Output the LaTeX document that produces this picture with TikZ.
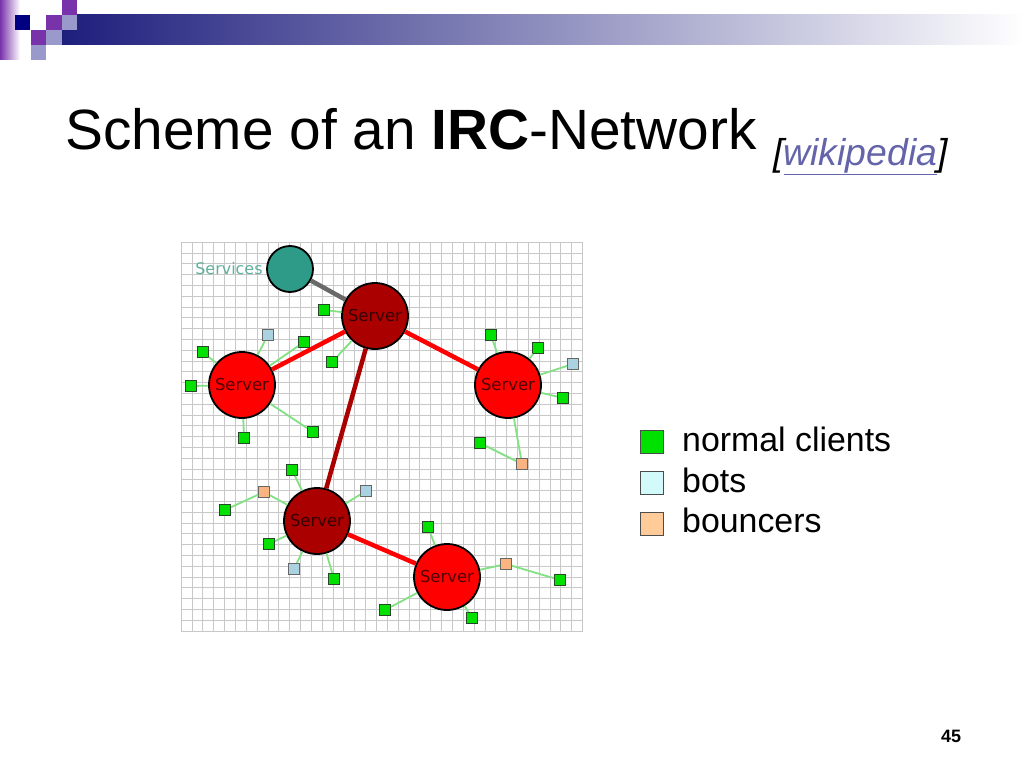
\documentclass[tikz,border=0pt]{standalone}
\usepackage{fontspec}
\setmainfont{Liberation Sans}
\newfontfamily\dejavu{DejaVu Sans}
\usetikzlibrary{positioning}
\definecolor{navy}{RGB}{0,0,128}
\definecolor{violet}{RGB}{120,50,170}
\definecolor{lavender}{RGB}{153,153,204}
\definecolor{barblue}{RGB}{30,30,125}
\definecolor{bargray}{RGB}{165,165,190}
\definecolor{linkcol}{RGB}{100,100,170}
\definecolor{gridcol}{RGB}{200,200,200}
\definecolor{srvred}{RGB}{255,0,0}
\definecolor{hubred}{RGB}{170,0,0}
\definecolor{svcteal}{RGB}{45,155,135}
\definecolor{svctext}{RGB}{95,175,155}
\definecolor{clgreen}{RGB}{0,225,0}
\definecolor{botblue}{RGB}{170,210,225}
\definecolor{bncorange}{RGB}{250,180,130}
\definecolor{leafgreen}{RGB}{130,225,130}
\begin{document}
\begin{tikzpicture}[x=1bp, y=-1bp,
  server/.style={circle, draw=black, line width=1.8bp, fill=srvred, minimum size=66bp,
    inner sep=0pt, font=\dejavu\fontsize{16.5}{16.5}\selectfont, text={rgb,255:red,80;green,0;blue,0}},
  hub/.style={server, fill=hubred, text={rgb,255:red,55;green,0;blue,0}},
  client/.style={rectangle, draw={rgb,255:red,40;green,70;blue,40}, line width=1bp,
    fill=clgreen, minimum size=11bp, inner sep=0pt},
  bot/.style={client, fill=botblue, draw=black!60},
  bouncer/.style={client, fill=bncorange, draw=black!60},
  leaf/.style={draw=leafgreen, line width=1.8bp},
  trunk/.style={draw=srvred, line width=4.5bp},
  keybox/.style={rectangle, draw=black!70, line width=0.8bp, minimum size=23bp, inner sep=0pt},
  keytext/.style={anchor=base west, inner sep=0pt, font=\fontsize{34}{34}\selectfont}]
\useasboundingbox (0,0) rectangle (1024,768);

\shade[left color=violet, right color=white] (0,0) rectangle (20,60);
\shade[left color=barblue, middle color=bargray, right color=white] (62,15) rectangle (1024,45);
\fill[navy] (15,15) rectangle (30,30);
\fill[violet] (62,0) rectangle (77,15);
\fill[violet] (46,15) rectangle (62,30);
\fill[violet] (31,30) rectangle (46,45);
\fill[lavender] (62,15) rectangle (77,30);
\fill[lavender] (46,30) rectangle (62,45);
\fill[lavender] (31,45) rectangle (46,60);

\node[anchor=base west, font=\fontsize{57}{57}\selectfont] (title) at (62,149)
  {Scheme of an \textbf{IRC}-Network};
\node[anchor=base west, inner sep=0pt, font=\fontsize{37.5}{37.5}\selectfont\itshape] (source) at (773,165)
  {[\textcolor{linkcol}{\underline{wikipedia}}]};

\foreach \i in {0,...,37}
{
    \draw[gridcol, line width=0.6bp] ({181+10.85*\i},242)--({181+10.85*\i},631);
}
\foreach \j in {0,...,36}
{
    \draw[gridcol, line width=0.6bp] (181,{242+10.8*\j})--(583,{242+10.8*\j});
}

\node[circle, draw=black, line width=1.8bp, fill=svcteal, minimum size=46bp] (services) at (290,269) {};
\node[left=0bp of services, text=svctext, font=\dejavu\fontsize{16}{16}\selectfont] (svclabel) {Services};
\node[hub] (top) at (375,316) {Server};
\node[server] (left) at (242,385) {Server};
\node[server] (right) at (508,385) {Server};
\node[hub] (low) at (317,521) {Server};
\node[server] (lowr) at (447,577) {Server};

\draw[draw={rgb,255:red,105;green,105;blue,105}, line width=4.5bp] (services)--(top);
\draw[trunk] (top)--(left);
\draw[trunk] (top)--(right);
\draw[trunk, draw=hubred] (top)--(low);
\draw[trunk] (low)--(lowr);

\foreach \n/\x/\y in {c1/324/310, c2/332/362, c3/304/342, c4/203/352, c5/191/386,
  c6/244/438, c7/313/432, c8/491/335, c9/538/348, c10/563/398, c11/480/443,
  c12/292/470, c13/225/510, c14/269/544, c15/334/579, c16/428/527, c17/560/580,
  c18/385/610, c19/472/618}
{
    \node[client] (\n) at (\x,\y) {};
}
\foreach \n/\x/\y in {b1/268/335, b2/573/364, b3/366/491, b4/294/569}
{
    \node[bot] (\n) at (\x,\y) {};
}
\foreach \n/\x/\y in {u1/522/464, u2/264/492, u3/506/564}
{
    \node[bouncer] (\n) at (\x,\y) {};
}

\foreach \a/\b in {c1/top, c2/top, b1/left, c3/left, c4/left, c5/left, c6/left, c7/left,
  c8/right, c9/right, b2/right, c10/right, u1/right, c11/u1,
  c12/low, u2/low, c13/u2, b3/low, c14/low, b4/low, c15/low,
  c16/lowr, u3/lowr, c17/u3, c18/lowr, c19/lowr}
{
    \draw[leaf] (\a)--(\b);
}

\node[keybox, fill=clgreen] (keyclient) at (652,442) {};
\node[keybox, fill={rgb,255:red,210;green,250;blue,250}] (keybot) at (652,483) {};
\node[keybox, fill={rgb,255:red,255;green,204;blue,153}] (keybnc) at (652,524) {};
\node[keytext] (lblclient) at (682,451) {normal clients};
\node[keytext] (lblbot) at (682,492) {bots};
\node[keytext] (lblbnc) at (682,532) {bouncers};

\node[font=\bfseries\fontsize{18}{18}\selectfont] (pagenum) at (951,736) {45};
\end{tikzpicture}
\end{document}
